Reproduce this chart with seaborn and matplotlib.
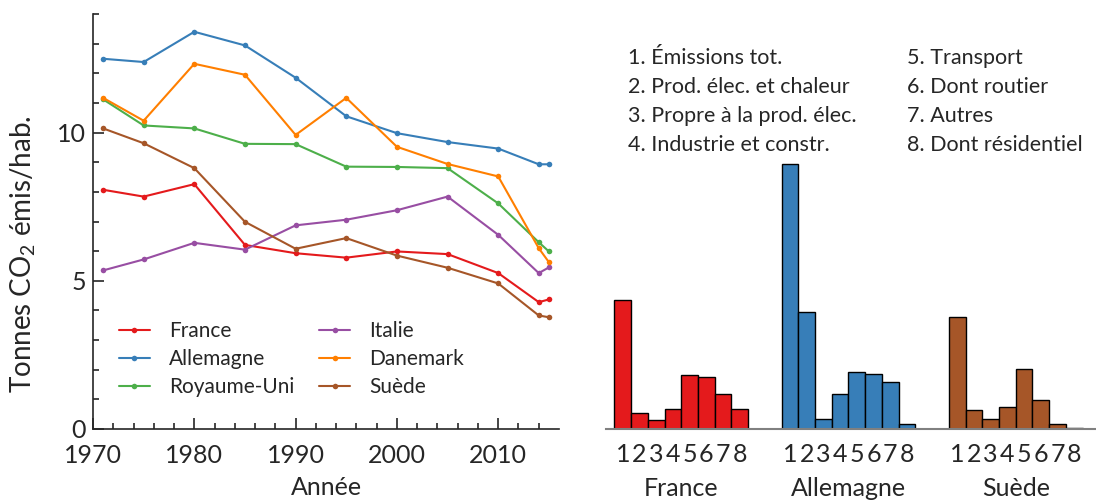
import numpy as np
import pandas as pd
import matplotlib as mpl
import matplotlib.pyplot as plt
import seaborn as sns

# --- data ---
annees = [1971, 1975, 1980, 1985, 1990, 1995, 2000, 2005, 2010, 2014, 2015]
france = [8.07, 7.84, 8.26, 6.21, 5.93, 5.78, 5.99, 5.90, 5.26, 4.28, 4.37]
allemagne = [12.49, 12.38, 13.40, 12.94, 11.85, 10.55, 9.98, 9.68, 9.46, 8.93, 8.93]
royaume_uni = [11.12, 10.24, 10.14, 9.62, 9.61, 8.85, 8.84, 8.80, 7.61, 6.30, 5.99]
italie = [5.35, 5.72, 6.28, 6.05, 6.87, 7.06, 7.38, 7.84, 6.55, 5.26, 5.45]
danemark = [11.17, 10.40, 12.32, 11.95, 9.92, 11.17, 9.52, 8.94, 8.52, 6.10, 5.63]
suede = [10.14, 9.64, 8.80, 6.99, 6.08, 6.44, 5.85, 5.44, 4.91, 3.83, 3.77]

pays = ["France", "Allemagne", "Royaume-Uni", "Italie", "Danemark", "Suède"]
couleurs = ["#e41a1c", "#377eb8", "#4daf4a", "#984ea3", "#ff7f00", "#a65628"]

secteurs = ["1. Émissions tot.", "2. Prod. élec. et chaleur",
            "3. Propre à la prod. élec.", "4. Industrie et constr.",
            "5. Transport", "6. Dont routier", "7. Autres",
            "8. Dont résidentiel"]
pays_barres = ["France", "Allemagne", "Suède"]
barres_france = [4.36, 0.55, 0.31, 0.67, 1.83, 1.76, 1.17, 0.69]
barres_allemagne = [8.93, 3.94, 0.34, 1.17, 1.92, 1.85, 1.60, 0.16]
barres_suede = [3.77, 0.65, 0.34, 0.75, 2.02, 0.97, 0.16, 0.02]
couleurs_barres = ["#e41a1c", "#377eb8", "#a65628"]

sns.set_style("ticks")
plt.rcParams["font.family"] = ["Lato", "DejaVu Sans"]
plt.rcParams["font.size"] = 16

series = [france, allemagne, royaume_uni, italie, danemark, suede]
df = pd.concat(
    [pd.DataFrame({"Année": annees, "val": s, "pays": p}) for p, s in zip(pays, series)]
)

fig = plt.figure(figsize=(10.96, 5.03), dpi=100)
ax = fig.add_axes([93 / 1096, 74 / 503, 466 / 1096, 415 / 503])
ax_b = fig.add_axes([606 / 1096, 74 / 503, 490 / 1096, 415 / 503])

sns.lineplot(df, x="Année", y="val", hue="pays", hue_order=pays,
             palette=couleurs, marker="o", markersize=4, markeredgewidth=0,
             linewidth=1.5, ax=ax)

ax.set_xlim(1970, 2016)
ax.set_ylim(0, 14)
ax.set_xticks([1970, 1980, 1990, 2000, 2010])
ax.set_xticks(np.arange(1972, 2016, 2), minor=True)
ax.set_yticks([0, 5, 10])
ax.set_yticks(np.arange(0, 15, 1), minor=True)
ax.tick_params(which="major", direction="in", length=8, width=1.2,
               labelsize=18, pad=5)
ax.tick_params(which="minor", direction="in", length=4, width=1.2)
ax.tick_params(axis="x", pad=11)
for s in ["top", "right"]:
    ax.spines[s].set_visible(False)
for s in ["left", "bottom"]:
    ax.spines[s].set_linewidth(1.2)
ax.set_xlabel("Année", fontsize=18, labelpad=6)
ax.set_ylabel("Tonnes CO$_\\mathregular{2}$ émis/hab.", fontsize=20)
ax.yaxis.set_label_coords(-0.118, 0.42)

handles, labels = ax.get_legend_handles_labels()
ax.legend(handles, labels, ncol=2, frameon=False, fontsize=15,
          loc="upper left", bbox_to_anchor=(0.015, 0.305),
          handlelength=1.5, handletextpad=0.9, columnspacing=1.2,
          labelspacing=0.38)

# --- bar chart ---
rows = []
for g, (p, vals) in enumerate(zip(pays_barres, [barres_france, barres_allemagne, barres_suede])):
    for k, v in enumerate(vals):
        rows.append({"pos": g * 10 + k, "val": v, "pays": p})
df_b = pd.DataFrame(rows)

sns.barplot(df_b, x="pos", y="val", hue="pays", hue_order=pays_barres,
            palette=couleurs_barres, saturation=1, native_scale=True,
            dodge=False, width=1, edgecolor="black", linewidth=1,
            legend=False, ax=ax_b)

ax_b.set_xlim(-1, 28.3)
ax_b.set_ylim(0, 14)
ax_b.set_yticks([])
ax_b.set_ylabel("")
ax_b.set_xlabel("")
ax_b.set_xticks(df_b["pos"])
ax_b.set_xticklabels([str(k + 1) for k in range(8)] * 3)
ax_b.tick_params(axis="x", length=0, labelsize=18, pad=10)
for s in ["top", "right", "left"]:
    ax_b.spines[s].set_visible(False)
ax_b.spines["bottom"].set_color("#808080")
ax_b.spines["bottom"].set_linewidth(1.5)
for g, p in enumerate(pays_barres):
    ax_b.text(g * 10 + 3.5, -0.143, p, transform=ax_b.get_xaxis_transform(),
              ha="center", va="center", fontsize=18)

for i, s in enumerate(secteurs):
    col, row = divmod(i, 4)
    fig.text((628 + col * 279) / 1096, 1 - (58 + row * 29) / 503, s,
             ha="left", va="center", fontsize=15.5)

fig.savefig("out.png", dpi=100)
